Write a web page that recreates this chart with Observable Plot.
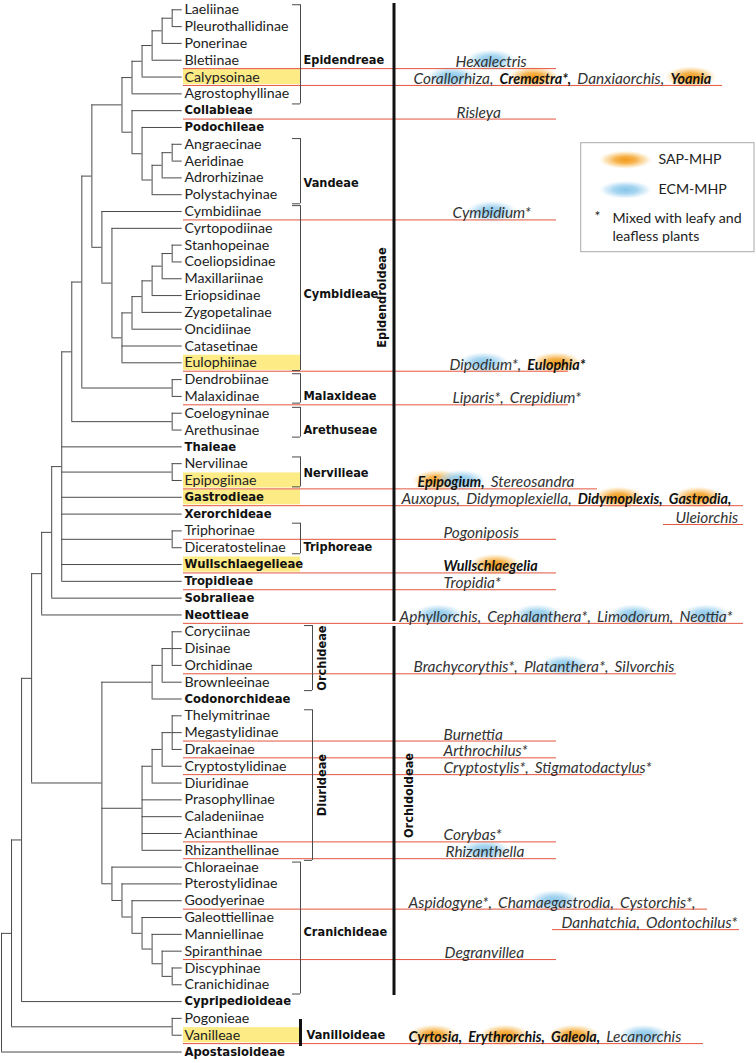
<!DOCTYPE html>
<html><head><meta charset="utf-8">
<script src="https://cdn.jsdelivr.net/npm/d3@7"></script>
<script src="https://cdn.jsdelivr.net/npm/@observablehq/plot@0.6"></script>
<style>html,body{margin:0;padding:0;background:#fff}#chart svg{display:block}</style>
</head><body><div id="chart"></div>
<script>
// ---------------- DATA ----------------
const leaves = ["Laeliinae","Pleurothallidinae","Ponerinae","Bletiinae","Calypsoinae","Agrostophyllinae","Collabieae","Podochileae","Angraecinae","Aeridinae","Adrorhizinae","Polystachyinae","Cymbidiinae","Cyrtopodiinae","Stanhopeinae","Coeliopsidinae","Maxillariinae","Eriopsidinae","Zygopetalinae","Oncidiinae","Catasetinae","Eulophiinae","Dendrobiinae","Malaxidinae","Coelogyninae","Arethusinae","Thaieae","Nervilinae","Epipogiinae","Gastrodieae","Xerorchideae","Triphorinae","Diceratostelinae","Wullschlaegelieae","Tropidieae","Sobralieae","Neottieae","Coryciinae","Disinae","Orchidinae","Brownleeinae","Codonorchideae","Thelymitrinae","Megastylidinae","Drakaeinae","Cryptostylidinae","Diuridinae","Prasophyllinae","Caladeniinae","Acianthinae","Rhizanthellinae","Chloraeinae","Pterostylidinae","Goodyerinae","Galeottiellinae","Manniellinae","Spiranthinae","Discyphinae","Cranichidinae","Cypripedioideae","Pogonieae","Vanilleae","Apostasioideae"];
const boldLeaves = ["Collabieae","Podochileae","Thaieae","Gastrodieae","Xerorchideae","Wullschlaegelieae","Tropidieae","Sobralieae","Neottieae","Codonorchideae","Cypripedioideae","Apostasioideae"];
const highlightedLeaves = ["Calypsoinae","Eulophiinae","Epipogiinae","Gastrodieae","Wullschlaegelieae","Vanilleae"];

// tree: [node depth level, ...children]; leaves are strings (depth 18)
const tree =
[0,
  [1,
    [2,
      [3,
        [4,
          [5,
            [6,
              [7,
                [8,
                  [9,
                    [12,
                      [13, [14, [15, [16, [17, "Laeliinae", "Pleurothallidinae"], "Ponerinae"], "Bletiinae"], "Calypsoinae"], "Agrostophyllinae"],
                      [13, "Collabieae", [14, "Podochileae", [15, [16, [17, "Angraecinae", "Aeridinae"], "Adrorhizinae"], "Polystachyinae"]]]
                    ],
                    [10, "Cymbidiinae",
                      [11, "Cyrtopodiinae",
                        [12,
                          [13, [14, [15, [16, [17, "Stanhopeinae", "Coeliopsidinae"], "Maxillariinae"], "Eriopsidinae"], "Zygopetalinae"], "Oncidiinae"],
                          "Catasetinae", "Eulophiinae"]]]
                  ],
                  [17, "Dendrobiinae", "Malaxidinae"]
                ],
                [17, "Coelogyninae", "Arethusinae"]
              ],
              "Thaieae", [17, "Nervilinae", "Epipogiinae"], "Gastrodieae", "Xerorchideae",
              [17, "Triphorinae", "Diceratostelinae"], "Wullschlaegelieae", "Tropidieae"
            ],
            "Sobralieae"
          ],
          "Neottieae"
        ],
        [10,
          [15, [16, [17, "Coryciinae", "Disinae", "Orchidinae"], "Brownleeinae"], "Codonorchideae"],
          [14, [15, [16, [17, "Thelymitrinae", "Megastylidinae", "Drakaeinae"], "Cryptostylidinae"], "Diuridinae"],
               "Prasophyllinae", "Caladeniinae", "Acianthinae", "Rhizanthellinae"],
          [11, "Chloraeinae", [12, "Pterostylidinae", [13, "Goodyerinae", [14, "Galeottiellinae",
               [15, "Manniellinae", [16, "Spiranthinae", [17, "Discyphinae", "Cranichidinae"]]]]]]]
        ]
      ],
      "Cypripedioideae"
    ],
    [17, "Pogonieae", "Vanilleae"]
  ],
  "Apostasioideae"
];

const tribes = [
  {name: "Epidendreae", from: "Laeliinae", to: "Agrostophyllinae"},
  {name: "Vandeae", from: "Angraecinae", to: "Polystachyinae"},
  {name: "Cymbidieae", from: "Cymbidiinae", to: "Eulophiinae"},
  {name: "Malaxideae", from: "Dendrobiinae", to: "Malaxidinae"},
  {name: "Arethuseae", from: "Coelogyninae", to: "Arethusinae"},
  {name: "Nervilieae", from: "Nervilinae", to: "Epipogiinae"},
  {name: "Triphoreae", from: "Triphorinae", to: "Diceratostelinae"},
  {name: "Orchideae", from: "Coryciinae", to: "Brownleeinae"},
  {name: "Diurideae", from: "Thelymitrinae", to: "Rhizanthellinae"},
  {name: "Cranichideae", from: "Chloraeinae", to: "Cranichidinae"}
];
const subfamilies = [
  {name: "Epidendroideae", from: "Laeliinae", to: "Neottieae"},
  {name: "Orchidoideae", from: "Coryciinae", to: "Cranichidinae"},
  {name: "Vanilloideae", from: "Pogonieae", to: "Vanilleae"}
];

// mycoheterotrophic genera per leaf (* = mixed with leafy and leafless plants)
const mhpAnnotations = [
  {leaf: "Bletiinae", genera: ["Hexalectris"]},
  {leaf: "Calypsoinae", genera: ["Corallorhiza", "Cremastra*", "Danxiaorchis", "Yoania"]},
  {leaf: "Collabieae", genera: ["Risleya"]},
  {leaf: "Cymbidiinae", genera: ["Cymbidium*"]},
  {leaf: "Eulophiinae", genera: ["Dipodium*", "Eulophia*"]},
  {leaf: "Malaxidinae", genera: ["Liparis*", "Crepidium*"]},
  {leaf: "Epipogiinae", genera: ["Epipogium", "Stereosandra"]},
  {leaf: "Gastrodieae", genera: ["Auxopus", "Didymoplexiella", "Didymoplexis", "Gastrodia", "Uleiorchis"]},
  {leaf: "Triphorinae", genera: ["Pogoniposis"]},
  {leaf: "Wullschlaegelieae", genera: ["Wullschlaegelia"]},
  {leaf: "Tropidieae", genera: ["Tropidia*"]},
  {leaf: "Neottieae", genera: ["Aphyllorchis", "Cephalanthera*", "Limodorum", "Neottia*"]},
  {leaf: "Orchidinae", genera: ["Brachycorythis*", "Platanthera*", "Silvorchis"]},
  {leaf: "Megastylidinae", genera: ["Burnettia"]},
  {leaf: "Drakaeinae", genera: ["Arthrochilus*"]},
  {leaf: "Cryptostylidinae", genera: ["Cryptostylis*", "Stigmatodactylus*"]},
  {leaf: "Acianthinae", genera: ["Corybas*"]},
  {leaf: "Rhizanthellinae", genera: ["Rhizanthella"]},
  {leaf: "Goodyerinae", genera: ["Aspidogyne*", "Chamaegastrodia", "Cystorchis*", "Danhatchia", "Odontochilus*"]},
  {leaf: "Spiranthinae", genera: ["Degranvillea"]},
  {leaf: "Vanilleae", genera: ["Cyrtosia", "Erythrorchis", "Galeola", "Lecanorchis"]}
];
const sapGenera = ["Cremastra", "Yoania", "Eulophia", "Epipogium", "Didymoplexis", "Gastrodia", "Wullschlaegelia", "Cyrtosia", "Erythrorchis", "Galeola"];
const ecmGenera = ["Hexalectris", "Corallorhiza", "Cymbidium", "Dipodium", "Epipogium", "Aphyllorchis", "Cephalanthera", "Limodorum", "Neottia", "Platanthera", "Rhizanthella", "Chamaegastrodia", "Lecanorchis"];
const legendItems = ["SAP-MHP", "ECM-MHP"];
const legendNote = ["Mixed with leafy and", "leafless plants"];

// ---------------- LAYOUT ----------------
const W = 756, H = 1063;
const ROW0 = 9.3, ROWH = 16.81;
const px2row = p => (p - ROW0) / ROWH;
const levelX = l => 1 + 10.04 * l;
const LEAF_LEVEL = 18;
const LABEL_X = 184;
const HL_X2 = 300;
const LINE_X1 = 183;
// annotation text start, underline end, optional wrap
const annotLayout = {
  Bletiinae: {x: 455, end: 556},
  Calypsoinae: {x: 413, end: 722},
  Collabieae: {x: 456, end: 556},
  Cymbidiinae: {x: 452, end: 556},
  Eulophiinae: {x: 449, end: 568},
  Malaxidinae: {x: 452, end: 568},
  Epipogiinae: {x: 417, end: 597},
  Gastrodieae: {x: 401, end: 743, wrap: 4, x2: 675, lineX1: 663, end2: 743, drow: 1.12},
  Triphorinae: {x: 443, end: 556},
  Wullschlaegelieae: {x: 443, end: 556},
  Tropidieae: {x: 443, end: 556},
  Neottieae: {x: 399, end: 743},
  Orchidinae: {x: 413, end: 676},
  Megastylidinae: {x: 443, end: 556},
  Drakaeinae: {x: 443, end: 556},
  Cryptostylidinae: {x: 443, end: 642},
  Acianthinae: {x: 443, end: 556},
  Rhizanthellinae: {x: 445, end: 556},
  Goodyerinae: {x: 408, end: 707, wrap: 3, x2: 561, lineX1: 552, end2: 739, drow: 1.22},
  Spiranthinae: {x: 444, end: 556},
  Vanilleae: {x: 408, end: 703}
};
const blobShift = {Wullschlaegelia: 0.55};

// ---------------- FONTS (fitted to reference widths) ----------------
const ctx = document.createElement("canvas").getContext("2d");
const tw = (t, font) => { ctx.font = font; return ctx.measureText(t).width; };
const fit = (style, weight, fam, sample, target) => 100 * target / tw(sample, `${style} ${weight} 100px ${fam}`);
const REG = "Lato", BOLD = "DejaVu Sans";
const leafSize = fit("normal", 400, REG, "Pleurothallidinae", 104);
const boldSize = fit("normal", 700, BOLD, "Cypripedioideae", 106.7);
const tribeSize = fit("normal", 700, BOLD, "Epidendreae", 80.7);
const itSize = fit("italic", 400, REG, "Chamaegastrodia,", 116);
const bitSize = fit("italic", 700, REG, "Cremastra*Didymoplexis", 150);
const legSize = fit("normal", 400, REG, "Mixed with leafy and", 130);

// ---------------- DERIVED ----------------
const idx = new Map(leaves.map((d, i) => [d, i]));
const hSegs = [], vSegs = [];
function walk(n) {
  if (typeof n === "string") return {y: idx.get(n), lvl: LEAF_LEVEL};
  const [lvl, ...kids] = n;
  const r = kids.map(walk);
  const y1 = r[0].y, y2 = r[r.length - 1].y;
  vSegs.push({x: levelX(lvl), y1, y2});
  for (const c of r) hSegs.push({x1: levelX(lvl), x2: levelX(c.lvl), y: c.y});
  return {y: (y1 + y2) / 2, lvl};
}
walk(tree);

const leafData = leaves.map((name, i) => ({name, i, bold: boldLeaves.includes(name)}));
const hlData = highlightedLeaves.map(n => ({y1: idx.get(n) - 0.45, y2: idx.get(n) + 0.45}));

const tokens = [], underlines = [], blobs = [];
const itFont = `italic 400 ${itSize}px ${REG}`, bitFont = `italic 700 ${bitSize}px ${REG}`;
for (const a of mhpAnnotations) {
  const L = annotLayout[a.leaf];
  const row = idx.get(a.leaf);
  const line1 = L.wrap ? a.genera.slice(0, L.wrap) : a.genera;
  const line2 = L.wrap ? a.genera.slice(L.wrap) : [];
  const lines = [{g: line1, x: L.x, r: row + 0.5, x1: LINE_X1, x2: L.end, last: line2.length === 0}];
  if (line2.length) lines.push({g: line2, x: L.x2, r: row + 0.5 + L.drow, x1: L.lineX1, x2: L.end2, last: true});
  for (const ln of lines) {
    underlines.push({y: ln.r, x1: ln.x1, x2: ln.x2});
    let x = ln.x;
    ln.g.forEach((g, k) => {
      const base = g.replace("*", "");
      const sap = sapGenera.includes(base), ecm = ecmGenera.includes(base);
      const bold = sap;
      const font = bold ? bitFont : itFont;
      const sep = (k < ln.g.length - 1 || !ln.last) ? "," : "";
      const txt = g + sep;
      const w = tw(g, font);
      tokens.push({text: txt, x, y: ln.r, bold});
      if (sap && ecm) {
        blobs.push({x: x + w * 0.32, y: ln.r - 0.5, type: "SAP"});
        blobs.push({x: x + w * 0.68, y: ln.r - 0.5, type: "ECM"});
      } else if (sap || ecm) {
        blobs.push({x: x + w * (blobShift[base] ?? 0.5), y: ln.r - 0.5, type: sap ? "SAP" : "ECM"});
      }
      x += tw(txt, font) + tw(" ", itFont) * 1.7;
    });
  }
}

const tribeGeom = {
  Epidendreae: {x: 300, t: -0.3, b: 0.6, ly: 3.0},
  Vandeae: {x: 300, t: -0.34, b: 0.54, ly: 10.35},
  Cymbidieae: {x: 300, t: -0.35, b: 0.46, ly: 16.9},
  Malaxideae: {x: 300, t: -0.35, b: 0.4, ly: 23.0},
  Arethuseae: {x: 300, t: -0.35, b: 0.42, ly: 25},
  Nervilieae: {x: 300, t: -0.4, b: 0.38, ly: 27.55},
  Triphoreae: {x: 300, t: -0.46, b: 0.36, ly: 32},
  Orchideae: {x: 312, t: -0.37, b: 0.5, rot: true, lx: 322},
  Diurideae: {x: 312, t: -0.36, b: 0.6, rot: true, lx: 322},
  Cranichideae: {x: 300, t: -0.3, b: 0.55, ly: 54.9}
};
const brV = [], brH = [], tribeText = [], tribeRot = [];
for (const t of tribes) {
  const g = tribeGeom[t.name];
  const y1 = idx.get(t.from) + g.t, y2 = idx.get(t.to) + g.b;
  brV.push({x: g.x, y1, y2});
  brH.push({y: y1, x1: g.x - 8, x2: g.x}, {y: y2, x1: g.x - 8, x2: g.x});
  if (g.rot) tribeRot.push({name: t.name, x: g.lx, y: (y1 + y2) / 2});
  else tribeText.push({name: t.name, x: g.x + 3, y: g.ly});
}
const subGeom = {
  Epidendroideae: {x: 393.5, y1: px2row(3), y2: px2row(621), lx: 382, ly: px2row(297), rot: true},
  Orchidoideae: {x: 393.5, y1: px2row(626), y2: px2row(995), lx: 409, ly: px2row(795), rot: true},
  Vanilloideae: {x: 300, y1: px2row(1019), y2: px2row(1046), lx: 306, ly: idx.get("Vanilleae"), rot: false}
};
const subLines = subfamilies.map(s => ({...subGeom[s.name], name: s.name}));

// legend
const LG = {x1: 580.7, x2: 754, y1: 142.7, y2: 251.7};
const legendBlobs = [{x: 625, y: px2row(159.3), type: "SAP"}, {x: 625, y: px2row(189.3), type: "ECM"}];
const legendLabels = legendItems.map((t, i) => ({t, x: 658, y: px2row(159.3 + 30 * i)}));
const legendNoteText = legendNote.map((t, i) => ({t, x: 612, y: px2row(218.3 + 17.5 * i)}));

// ellipse symbol
const ellipse = aspect => ({
  draw(c, size) {
    const rx = Math.sqrt(size / Math.PI), ry = rx * aspect, k = 0.5522848;
    c.moveTo(rx, 0);
    c.bezierCurveTo(rx, ry * k, rx * k, ry, 0, ry);
    c.bezierCurveTo(-rx * k, ry, -rx, ry * k, -rx, 0);
    c.bezierCurveTo(-rx, -ry * k, -rx * k, -ry, 0, -ry);
    c.bezierCurveTo(rx * k, -ry, rx, -ry * k, rx, 0);
    c.closePath();
  }
});

const TREE = "#4a4a4a", RED = "#e4553f", HL = "#fdeb86";

const plot = Plot.plot({
  width: W, height: H,
  marginTop: 0, marginRight: 0, marginBottom: 0, marginLeft: 0,
  x: {domain: [0, W], range: [0, W], axis: null},
  y: {domain: [-ROW0 / ROWH, (H - ROW0) / ROWH], range: [0, H], axis: null},
  style: {background: "#fff"},
  marks: [
    Plot.rect(hlData, {x1: LINE_X1, x2: HL_X2, y1: "y1", y2: "y2", fill: HL}),
    Plot.dot(blobs.filter(d => d.type === "SAP"), {x: "x", y: "y", r: 26, symbol: ellipse(0.42), fill: "url(#sapGrad)", stroke: "none"}),
    Plot.dot(blobs.filter(d => d.type === "ECM"), {x: "x", y: "y", r: 26, symbol: ellipse(0.42), fill: "url(#ecmGrad)", stroke: "none"}),
    Plot.ruleY(underlines, {y: "y", x1: "x1", x2: "x2", stroke: RED, strokeWidth: 1}),
    Plot.ruleX(vSegs, {x: "x", y1: "y1", y2: "y2", stroke: TREE, strokeWidth: 1}),
    Plot.ruleY(hSegs, {y: "y", x1: "x1", x2: "x2", stroke: TREE, strokeWidth: 1}),
    Plot.text(leafData.filter(d => !d.bold), {x: LABEL_X, y: "i", text: "name", textAnchor: "start", fontFamily: REG, fontSize: leafSize, fill: "#222"}),
    Plot.text(leafData.filter(d => d.bold), {x: LABEL_X, y: "i", text: "name", textAnchor: "start", fontFamily: BOLD, fontWeight: 700, fontSize: boldSize, fill: "#111"}),
    Plot.text(tokens.filter(d => !d.bold), {x: "x", y: "y", text: "text", textAnchor: "start", lineAnchor: "bottom", dy: -1.5, fontFamily: REG, fontStyle: "italic", fontSize: itSize, fill: "#333"}),
    Plot.text(tokens.filter(d => d.bold), {x: "x", y: "y", text: "text", textAnchor: "start", lineAnchor: "bottom", dy: -1.5, fontFamily: REG, fontStyle: "italic", fontWeight: 700, fontSize: bitSize, fill: "#111"}),
    // tribe brackets
    Plot.ruleX(brV, {x: "x", y1: "y1", y2: "y2", stroke: TREE, strokeWidth: 1}),
    Plot.ruleY(brH, {y: "y", x1: "x1", x2: "x2", stroke: TREE, strokeWidth: 1}),
    Plot.text(tribeText, {x: "x", y: "y", text: "name", textAnchor: "start", fontFamily: BOLD, fontWeight: 700, fontSize: tribeSize, fill: "#111"}),
    Plot.text(tribeRot, {x: "x", y: "y", text: "name", rotate: -90, fontFamily: BOLD, fontWeight: 700, fontSize: tribeSize, fill: "#111"}),
    // subfamilies
    Plot.ruleX(subLines, {x: "x", y1: "y1", y2: "y2", stroke: "#111", strokeWidth: 3}),
    Plot.text(subLines.filter(d => d.rot), {x: "lx", y: "ly", text: "name", rotate: -90, fontFamily: BOLD, fontWeight: 700, fontSize: tribeSize, fill: "#111"}),
    Plot.text(subLines.filter(d => !d.rot), {x: "lx", y: "ly", text: "name", textAnchor: "start", fontFamily: BOLD, fontWeight: 700, fontSize: tribeSize, fill: "#111"}),
    // legend
    Plot.rect([LG], {x1: "x1", x2: "x2", y1: d => px2row(d.y1), y2: d => px2row(d.y2), fill: "none", stroke: "#a8a8a8", strokeWidth: 1}),
    Plot.dot(legendBlobs.filter(d => d.type === "SAP"), {x: "x", y: "y", r: 27, symbol: ellipse(0.34), fill: "url(#sapGrad)", stroke: "none"}),
    Plot.dot(legendBlobs.filter(d => d.type === "ECM"), {x: "x", y: "y", r: 27, symbol: ellipse(0.34), fill: "url(#ecmGrad)", stroke: "none"}),
    Plot.text(legendLabels, {x: "x", y: "y", text: "t", textAnchor: "start", fontFamily: REG, fontSize: legSize, fill: "#222"}),
    Plot.text([{t: "*", x: 597, y: px2row(216)}], {x: "x", y: "y", text: "t", fontFamily: REG, fontSize: legSize, fill: "#222"}),
    Plot.text(legendNoteText, {x: "x", y: "y", text: "t", textAnchor: "start", fontFamily: REG, fontSize: legSize, fill: "#222"})
  ]
});

const defs = d3.select(plot).insert("defs", ":first-child");
function grad(id, stops) {
  const g = defs.append("radialGradient").attr("id", id).attr("cx", "50%").attr("cy", "50%").attr("r", "50%");
  for (const [o, c, a] of stops) g.append("stop").attr("offset", o).attr("stop-color", c).attr("stop-opacity", a);
}
grad("sapGrad", [["0%", "#f29a18", 1], ["40%", "#f5ab3c", 0.9], ["75%", "#f9cf86", 0.55], ["100%", "#fde9c6", 0]]);
grad("ecmGrad", [["0%", "#86c5ea", 1], ["45%", "#99cfee", 0.85], ["75%", "#bfe1f5", 0.55], ["100%", "#e3f2fb", 0]]);

document.getElementById("chart").append(plot);
</script>
</body></html>
